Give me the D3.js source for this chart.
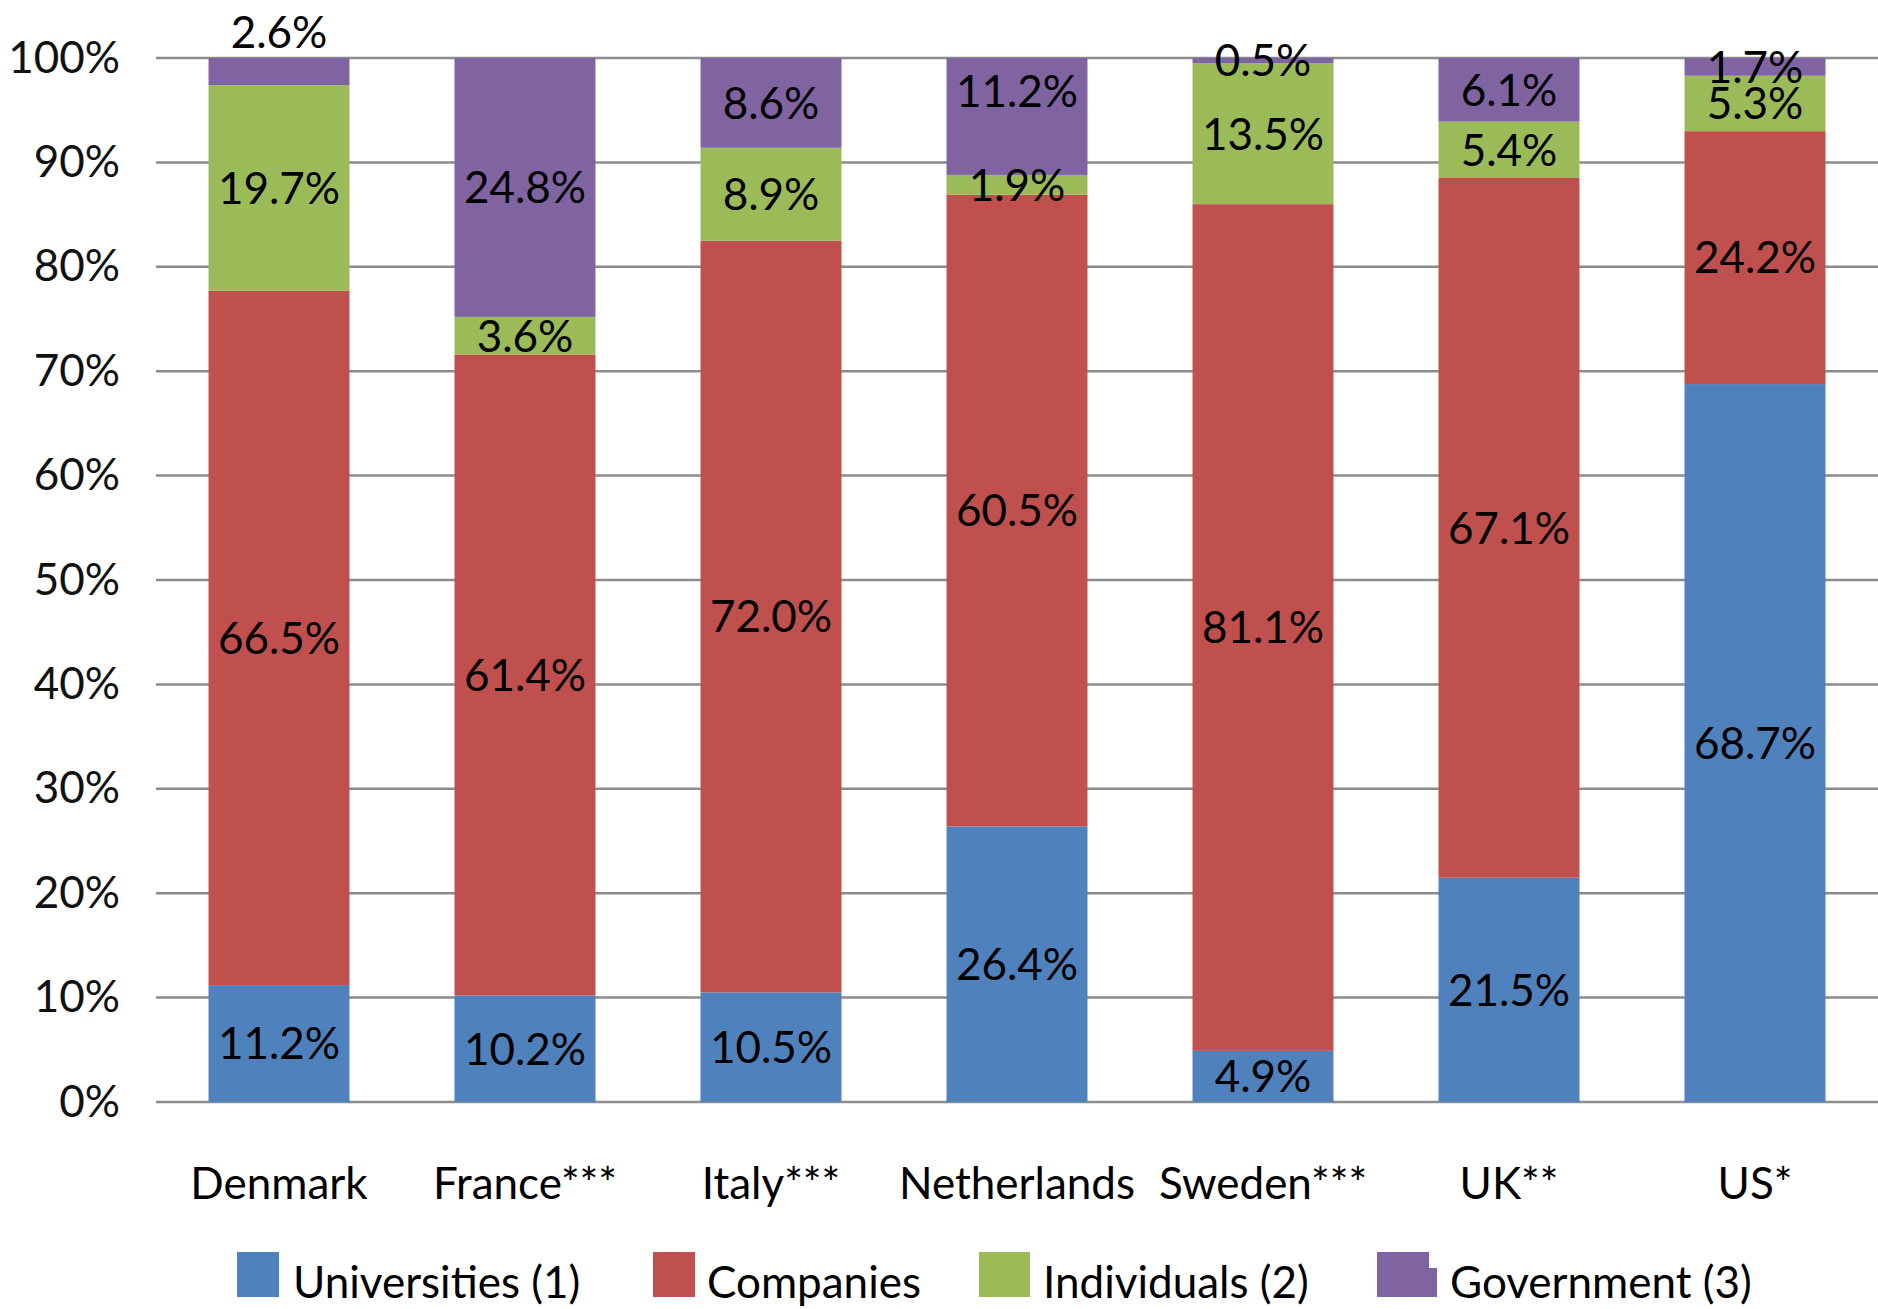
<!DOCTYPE html>
<html>
<head>
<meta charset="utf-8">
<script src="https://cdn.jsdelivr.net/npm/d3@7"></script>
<style>
  html, body { margin: 0; padding: 0; background: #fff; }
  svg { display: block; }
  text { font-family: Lato, "Liberation Sans", sans-serif; }
</style>
</head>
<body>
<svg id="chart" width="1878" height="1309"></svg>
<script>
// Funding sources, share of total per country
const countries = ["Denmark", "France***", "Italy***", "Netherlands", "Sweden***", "UK**", "US*"];
const seriesNames = ["Universities (1)", "Companies", "Individuals (2)", "Government (3)"];
const universities = [11.2, 10.2, 10.5, 26.4, 4.9, 21.5, 68.7];
const companies    = [66.5, 61.4, 72.0, 60.5, 81.1, 67.1, 24.2];
const individuals  = [19.7, 3.6, 8.9, 1.9, 13.5, 5.4, 5.3];
const government   = [2.6, 24.8, 8.6, 11.2, 0.5, 6.1, 1.7];
const yTicks = [0, 10, 20, 30, 40, 50, 60, 70, 80, 90, 100];

const colors = ["#4F81BD", "#C0504D", "#9BBB59", "#8064A2"];
const seriesKeys = ["universities", "companies", "individuals", "government"];
const seriesValues = [universities, companies, individuals, government];

// rows for the stack, one per country
const rows = countries.map((c, i) => {
  const r = { country: c };
  seriesKeys.forEach((k, j) => { r[k] = seriesValues[j][i]; });
  return r;
});

// 100% stacked: each country's segments are normalised to its total
const stacked = d3.stack().keys(seriesKeys).offset(d3.stackOffsetExpand)(rows);

const svg = d3.select("#chart");
const plotLeft = 156, plotRight = 1878, plotTop = 58, plotBottom = 1102;

const x = d3.scaleBand().domain(countries).range([plotLeft, plotRight])
  .paddingInner(0.427).paddingOuter(0.2135);
const y = d3.scaleLinear().domain([0, 1]).range([plotBottom, plotTop]);

// gridlines
svg.append("g").selectAll("line").data(yTicks).join("line")
  .attr("x1", plotLeft).attr("x2", plotRight)
  .attr("y1", d => y(d / 100)).attr("y2", d => y(d / 100))
  .attr("stroke", "#8c8c8c").attr("stroke-width", 2.5);

// y axis tick labels
const yAxis = d3.axisLeft(y).tickValues(yTicks.map(d => d / 100))
  .tickFormat(d3.format(".0%")).tickSize(0).tickPadding(36);
const ya = svg.append("g").attr("transform", `translate(${plotLeft},0)`).call(yAxis);
ya.select(".domain").remove();
ya.selectAll("text").attr("font-family", "Lato, 'Liberation Sans', sans-serif")
  .attr("font-size", 44).attr("fill", "#111");

// bars
const layers = svg.append("g").selectAll("g").data(stacked).join("g")
  .attr("fill", (d, i) => colors[i]);
layers.selectAll("rect").data(d => d).join("rect")
  .attr("x", d => x(d.data.country))
  .attr("width", x.bandwidth())
  .attr("y", d => y(d[1]))
  .attr("height", d => y(d[0]) - y(d[1]));

// data labels, centred in each segment, with a few nudged labels
const labelShift = { "Denmark|3": null, "Netherlands|3": -25 };
const labels = svg.append("g").attr("font-size", 44).attr("fill", "#000").attr("text-anchor", "middle");
stacked.forEach((layer, si) => {
  layer.forEach((d, ci) => {
    const v = seriesValues[si][ci];
    const key = d.data.country + "|" + si;
    let cy = y((d[0] + d[1]) / 2);
    if (key in labelShift) {
      // null: label sits just above the bar top
      cy = labelShift[key] === null ? y(1) - 26 : cy + labelShift[key];
    }
    labels.append("text")
      .attr("x", x(d.data.country) + x.bandwidth() / 2)
      .attr("y", cy)
      .attr("dy", "0.36em")
      .text(v.toFixed(1) + "%");
  });
});

// x axis category labels
const xAxis = d3.axisBottom(x).tickSize(0).tickPadding(0);
const xa = svg.append("g").attr("transform", `translate(0,${plotBottom + 66})`).call(xAxis);
xa.select(".domain").remove();
xa.selectAll("text").attr("font-family", "Lato, 'Liberation Sans', sans-serif")
  .attr("font-size", 44).attr("fill", "#000");

// legend
const legendSwatch = [[237, 42], [653, 42], [979, 51], [1377, 52]];
const legendText = [293, 707, 1043, 1450];
const legend = svg.append("g");
seriesNames.forEach((name, i) => {
  const [sx, sw] = legendSwatch[i];
  legend.append("rect").attr("x", sx).attr("y", 1252).attr("width", sw).attr("height", 45)
    .attr("fill", colors[i]);
  if (i === 3) {
    // the government swatch has a small stepped corner
    legend.append("rect").attr("x", sx + 34).attr("y", 1268).attr("width", 26).attr("height", 29)
      .attr("fill", colors[i]);
  }
  legend.append("text").attr("x", legendText[i]).attr("y", 1282).attr("dy", "0.36em")
    .attr("font-size", 44).attr("fill", "#000").text(name);
});
</script>
</body>
</html>
